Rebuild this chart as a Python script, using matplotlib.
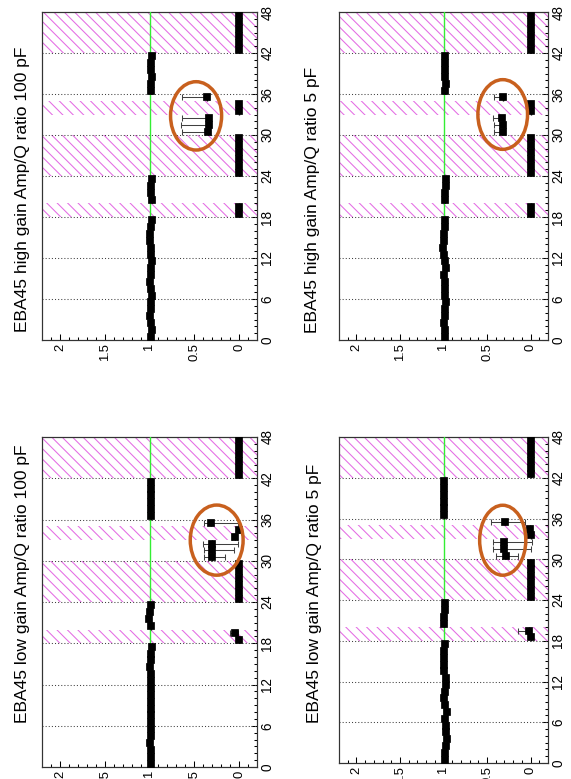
import matplotlib
matplotlib.use('Agg')
import matplotlib.pyplot as plt
from matplotlib.patches import Ellipse
import numpy as np

plt.rcParams['font.family'] = ['Liberation Sans', 'DejaVu Sans']
plt.rcParams['hatch.linewidth'] = 0.6

# canales del modulo (centro de cada bin)
channels = np.arange(48) + 0.5
# zonas sin señal (rayadas)
bad_ranges = [(18, 20), (24, 30), (33, 35), (42, 48)]

titles = ['EBA45 high gain Amp/Q ratio 100 pF',
          'EBA45 high gain Amp/Q ratio 5 pF',
          'EBA45 low gain Amp/Q ratio 100 pF',
          'EBA45 low gain Amp/Q ratio 5 pF']

ratio_hg_100 = [0.98, 0.97, 0.98, 0.99, 0.98, 0.98, 0.97, 0.98, 0.99, 0.98, 0.98, 0.97,
                0.98, 0.98, 0.99, 0.99, 0.98, 0.97, 0, 0, 0.97, 0.98, 0.98, 0.97,
                0, 0, 0, 0, 0, 0, 0.35, 0.34, 0.34, 0, 0, 0.36,
                0.98, 0.98, 0.97, 0.98, 0.98, 0.97, 0, 0, 0, 0, 0, 0]
ratio_hg_5 = [0.98, 0.98, 0.99, 0.98, 0.98, 0.97, 0.98, 0.98, 0.98, 0.99, 0.97, 0.98,
              0.99, 1.01, 1.00, 0.99, 0.98, 0.98, 0, 0, 0.98, 0.98, 0.97, 0.97,
              0, 0, 0, 0, 0, 0, 0.32, 0.32, 0.33, 0, 0, 0.32,
              0.98, 0.97, 0.98, 0.98, 0.98, 0.98, 0, 0, 0, 0, 0, 0]
ratio_lg_100 = [0.98, 0.98, 0.98, 0.99, 0.98, 0.98, 0.98, 0.98, 0.98, 0.98, 0.98, 0.98,
                0.98, 0.98, 0.99, 0.98, 0.98, 0.97, 0, 0.04, 0.98, 1.01, 0.99, 0.98,
                0, 0, 0, 0, 0, 0, 0.30, 0.30, 0.30, 0.05, 0, 0.31,
                0.98, 0.98, 0.98, 0.98, 0.98, 0.98, 0, 0, 0, 0, 0, 0]
ratio_lg_5 = [0.98, 0.98, 0.97, 0.96, 0.97, 0.97, 0.98, 0.96, 0.98, 1.00, 0.98, 0.97,
              0.97, 0.99, 0.99, 0.99, 0.99, 0.98, 0, 0.02, 1.00, 1.00, 0.98, 0.98,
              0, 0, 0, 0, 0, 0, 0.28, 0.30, 0.31, 0, 0.01, 0.29,
              0.99, 0.99, 0.99, 0.99, 0.99, 0.99, 0, 0, 0, 0, 0, 0]

# errores asimetricos (solo canales con valores raros)
err_hi_hg_100 = {30: 0.29, 31: 0.31, 32: 0.30, 35: 0.28}
err_lo_hg_100 = {30: 0.02, 31: 0.02, 32: 0.02, 35: 0.02}
err_hi_hg_5 = {30: 0.10, 31: 0.10, 32: 0.10, 35: 0.10}
err_lo_hg_5 = {30: 0.02, 31: 0.02, 32: 0.02, 35: 0.02}
err_hi_lg_100 = {19: 0.06, 30: 0.09, 31: 0.09, 32: 0.10, 33: 0.03, 35: 0.08}
err_lo_lg_100 = {19: 0.03, 30: 0.14, 31: 0.24, 32: 0.29, 33: 0.03, 35: 0.30}
err_hi_lg_5 = {19: 0.12, 30: 0.12, 31: 0.13, 32: 0.12, 35: 0.17}
err_lo_lg_5 = {19: 0.02, 30: 0.14, 31: 0.31, 32: 0.33, 35: 0.23}

panels = [
    (ratio_hg_100, err_lo_hg_100, err_hi_hg_100),
    (ratio_hg_5, err_lo_hg_5, err_hi_hg_5),
    (ratio_lg_100, err_lo_lg_100, err_hi_lg_100),
    (ratio_lg_5, err_lo_lg_5, err_hi_lg_5),
]

# circulos naranjas: (centro ratio, centro canal, ancho, alto)
circles = [(0.48, 32.8, 0.57, 10.0),
           (0.32, 33.0, 0.57, 10.2),
           (0.25, 33.0, 0.59, 10.2),
           (0.32, 32.8, 0.53, 10.3)]

W, H = 571, 779
boxes = [(42, 12, 257, 340), (339, 12, 548, 340),
         (42, 437, 257, 767), (339, 437, 548, 763)]
title_pos = [(23, 332), (313, 333), (23, 723), (315, 723)]

fig = plt.figure(figsize=(W / 125, H / 125), dpi=125)

for i in range(4):
    ratio, elo, ehi = panels[i]
    x0, y0, x1, y1 = boxes[i]
    ax = fig.add_axes([x0 / W, 1 - y1 / H, (x1 - x0) / W, (y1 - y0) / H])

    for a, b in bad_ranges:
        ax.axhspan(a, b, facecolor='none', edgecolor='#e46ce4', lw=0, hatch='\\\\\\\\', zorder=1)
    for c in range(6, 48, 6):
        ax.axhline(c, color='0.25', lw=0.6, ls=(0, (1, 2)), zorder=2)
    ax.axvline(1, color='#33ee33', lw=0.8, zorder=3)

    lo = [elo.get(k, 0.0) for k in range(48)]
    hi = [ehi.get(k, 0.0) for k in range(48)]
    ax.errorbar(ratio, channels, xerr=[lo, hi], fmt='none', ecolor='0.25',
                elinewidth=0.6, capsize=1.6, capthick=0.6, zorder=4)
    ax.errorbar(ratio, channels, yerr=0.5, fmt='s', color='black', ms=3.8,
                elinewidth=0.8, capsize=0, zorder=5)

    cx, cy, cw, ch = circles[i]
    ax.add_patch(Ellipse((cx, cy), cw, ch, fill=False, edgecolor='#c8601e', lw=2.0, zorder=6))

    ax.set_xlim(2.2, -0.2)
    ax.set_ylim(0, 48)
    ax.set_xticks([0, 0.5, 1, 1.5, 2])
    ax.set_xticklabels(['0', '0.5', '1', '1.5', '2'], rotation=90, fontsize=7.5)
    ax.set_xticks(np.arange(-0.1, 2.2, 0.1), minor=True)
    ax.yaxis.tick_right()
    ax.set_yticks(range(0, 49, 6))
    ax.set_yticks(range(0, 49), minor=True)
    ax.set_yticklabels([str(v) for v in range(0, 49, 6)], rotation=90, va='center', fontsize=7.8)
    ax.tick_params(which='major', direction='in', length=3.2, width=0.6, pad=2)
    ax.tick_params(which='minor', direction='in', length=1.7, width=0.6)
    for s in ax.spines.values():
        s.set_linewidth(0.7)
        s.set_color('0.2')

    tx, ty = title_pos[i]
    fig.text(tx / W, 1 - ty / H, titles[i], rotation=90, ha='center', va='bottom', fontsize=10)

fig.savefig('out.png', dpi=125)
